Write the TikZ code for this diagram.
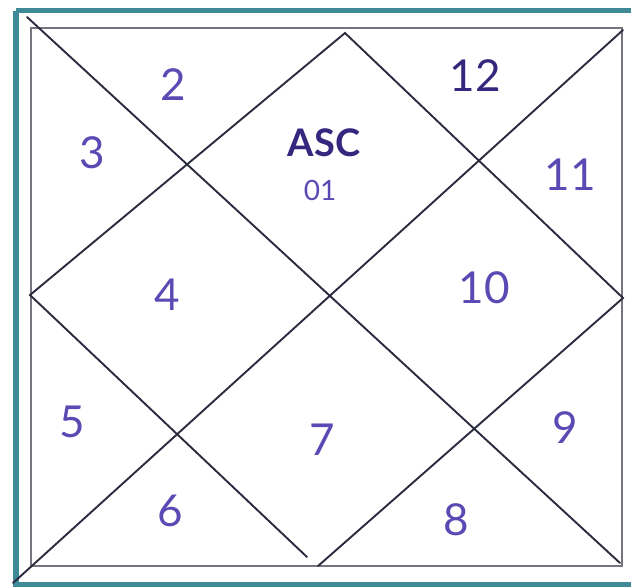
\documentclass[tikz,border=0pt]{standalone}
\usepackage{fontspec}
\setmainfont{Lato}
\definecolor{frameteal}{HTML}{3E8A96}
\definecolor{boxgray}{HTML}{75757F}
\definecolor{linedark}{HTML}{2B2B3E}
\definecolor{inkpurple}{HTML}{5A4AB4}
\definecolor{inkdark}{HTML}{34287E}
\tikzset{
  frameline/.style={draw=frameteal, line width=5.5pt},
  boxline/.style={draw=boxgray, line width=1.6pt},
  chartline/.style={draw=linedark, line width=1.9pt, line cap=round},
  house/.style={text=inkpurple, font=\fontsize{44}{44}\selectfont, inner sep=0pt},
  housedark/.style={text=inkdark, font=\fontsize{44}{44}\selectfont, inner sep=0pt},
}
\begin{document}
\begin{tikzpicture}[x=1pt,y=-1pt]
\useasboundingbox (0,0) rectangle (631,587);
\fill[white] (0,0) rectangle (631,587);
% outer teal frame
\draw[frameline] (16,10.5) -- (645,10.5);
\draw[frameline] (16,10.5) -- (16,584.5) -- (645,584.5);
% inner rectangle
\draw[boxline] (31,28) rectangle (622,566);
% coordinates
\coordinate (tl) at (27,17);
\coordinate (br) at (620,563);
\coordinate (bl) at (13,583);
\coordinate (tr) at (623,30);
\coordinate (dt) at (345,33);
\coordinate (dl) at (30,295);
\coordinate (dr) at (623,298);
\coordinate (db1) at (307,557);
\coordinate (db2) at (318,566);
% diagonals
\draw[chartline] (tl) -- (br);
\draw[chartline] (bl) -- (tr);
% diamond
\draw[chartline] (db1) -- (dl) -- (dt) -- (dr) -- (db2);
% house labels
\node[house] (h2) at (173,85) {2};
\node[housedark] (h12) at (475,76) {12};
\node[house] (h3) at (92,153) {3};
\node[text=inkdark, font=\fontsize{38}{38}\selectfont\bfseries, inner sep=0pt] (asc) at (324,143) {ASC};
\node[text=inkpurple, font=\fontsize{28}{28}\selectfont, inner sep=0pt] (h1) at (320,190) {01};
\node[house] (h11) at (570,175) {11};
\node[house] (h4) at (167,295) {4};
\node[house] (h10) at (484,288) {10};
\node[house] (h5) at (72,422) {5};
\node[house] (h9) at (565,428) {9};
\node[house] (h7) at (322,440) {7};
\node[house] (h6) at (170,511) {6};
\node[house] (h8) at (456,520) {8};
\end{tikzpicture}
\end{document}
